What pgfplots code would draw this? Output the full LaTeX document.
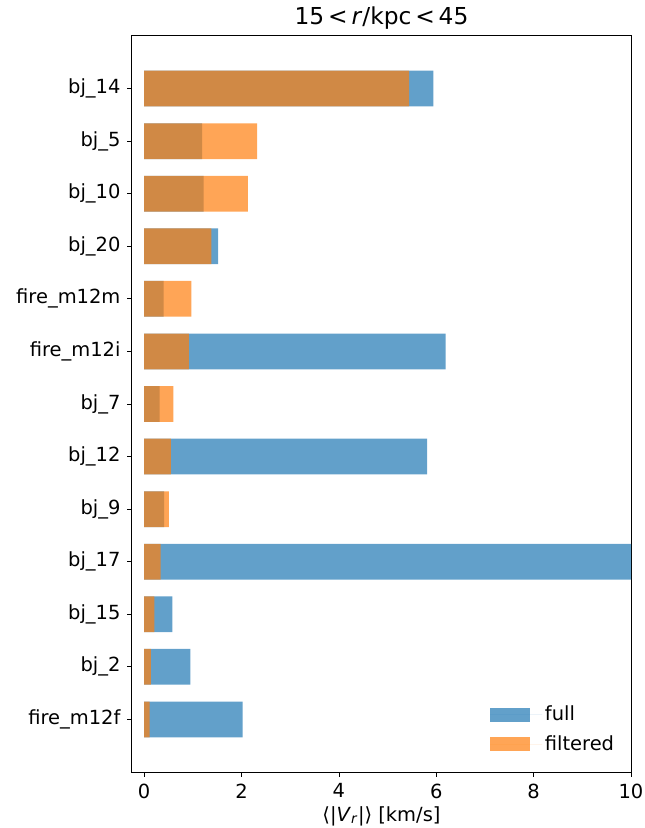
\documentclass[border=0pt]{standalone}
\usepackage{pgfplots}
\pgfplotsset{compat=1.18}
\usepackage{fontspec}
\setmainfont{DejaVu Sans}
\definecolor{tabblue}{RGB}{31,119,180}
\definecolor{taborange}{RGB}{255,127,14}
\pgfplotstableread{
y full filtered
0 2.02 0.11
1 0.95 0.14
2 0.58 0.21
3 10.6 0.34
4 0.41 0.51
5 5.81 0.55
6 0.32 0.60
7 6.19 0.92
8 0.40 0.97
9 1.52 1.38
10 1.22 2.13
11 1.19 2.32
12 5.94 5.44
}\datatable
\begin{document}
\fontsize{14.6}{17}\selectfont
\begin{tikzpicture}
\begin{axis}[
  name=ax,
  scale only axis,
  width=374.25pt, height=552pt,
  xmin=-0.25, xmax=10, ymin=-1, ymax=13,
  xtick={0,2,4,6,8,10},
  ytick={0,1,2,3,4,5,6,7,8,9,10,11,12},
  yticklabels={fire\_m12f,bj\_2,bj\_15,bj\_17,bj\_9,bj\_12,bj\_7,fire\_m12i,fire\_m12m,bj\_20,bj\_10,bj\_5,bj\_14},
  xtick pos=lower, ytick pos=left,
  tick align=outside,
  major tick length=3.6pt,
  every tick/.style={black, line width=0.6pt},
  axis line style={line width=0.75pt},
  tick label style={font=\fontsize{14.6}{17}\selectfont},
  /pgf/number format/assume math mode=true,
  xlabel={⟨|\textit{V}\textsubscript{\textit{r}}|⟩ [km/s]},
  xlabel style={font=\fontsize{14.6}{17}\selectfont, yshift=4pt},
  title={15\,<\,\textit{r}/kpc\,<\,45},
  title style={font=\fontsize{17.5}{20}\selectfont, yshift=-6pt},
  legend style={draw=none, fill=none, at={(0.98,0.018)}, anchor=south east,
    font=\fontsize{14.6}{17}\selectfont, row sep=5pt,
    legend cell align=left},
  legend image code/.code={\fill[#1] (0pt,-5.25pt) rectangle (30pt,5.25pt);\path (0pt,0pt) -- (39pt,0pt);},
  clip=true,
]
\addplot[xbar, bar shift=0pt, bar width=0.68, fill=tabblue, fill opacity=0.7, draw=none] table[x=full, y=y] {\datatable};
\addlegendentry{full}
\addplot[xbar, bar shift=0pt, bar width=0.68, fill=taborange, fill opacity=0.7, draw=none] table[x=filtered, y=y] {\datatable};
\addlegendentry{filtered}
\end{axis}
\pgfresetboundingbox
\path ([shift={(-99pt,-42pt)}]ax.south west) rectangle ([shift={(9.75pt,27pt)}]ax.north east);
\end{tikzpicture}
\end{document}
